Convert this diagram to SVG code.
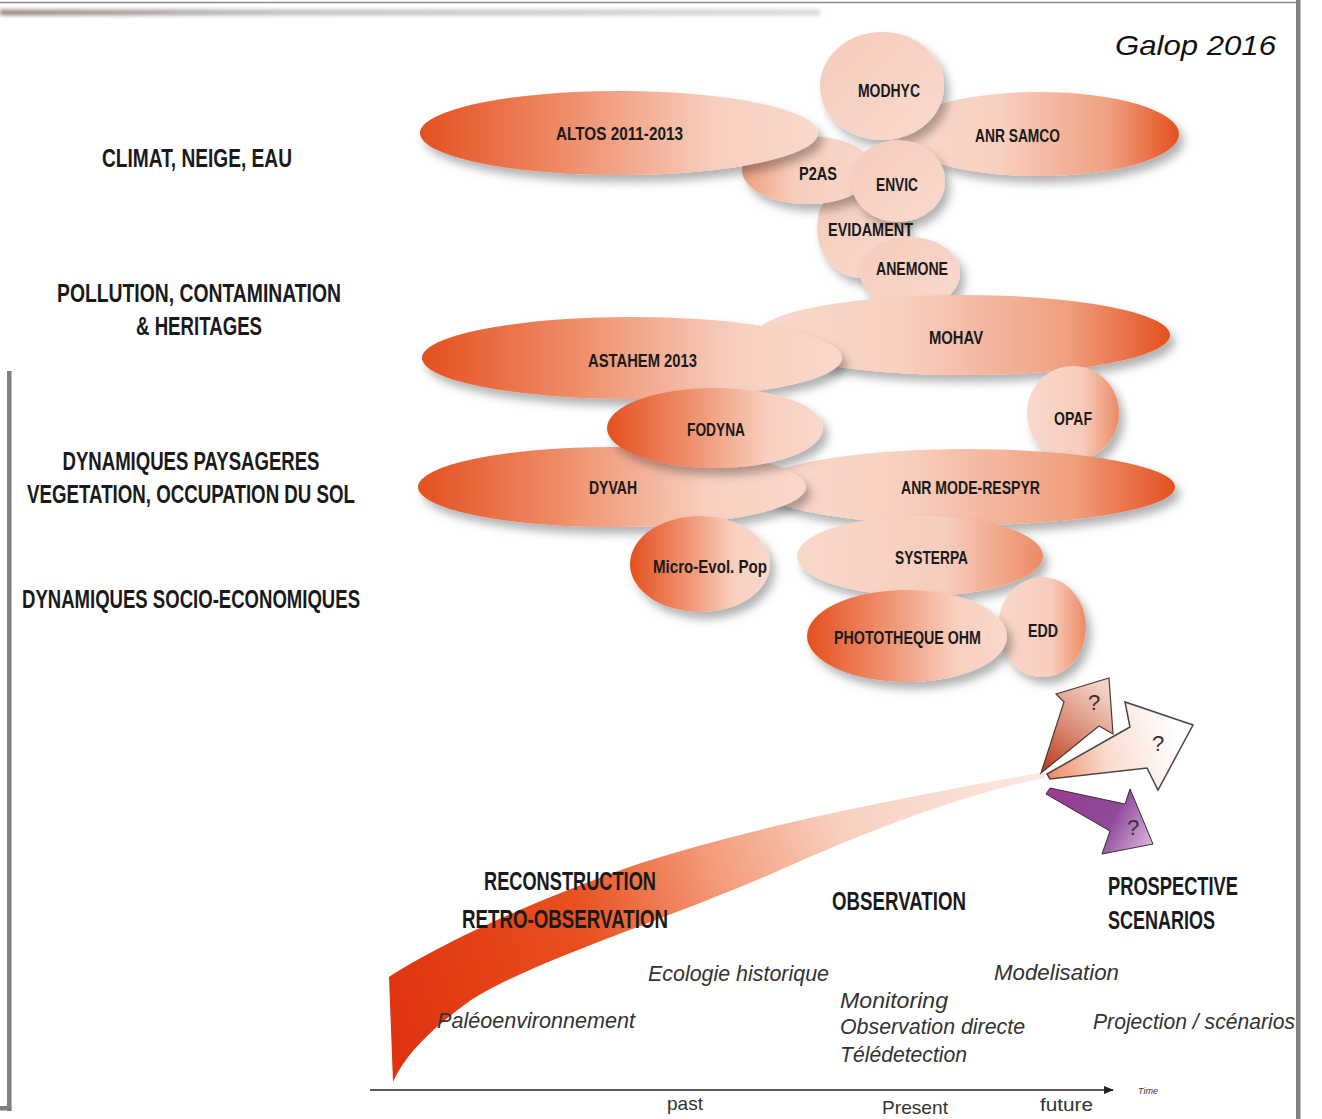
<svg xmlns="http://www.w3.org/2000/svg" width="1322" height="1119" viewBox="0 0 1322 1119">
<defs>
<style>
.lbl{font-family:"Liberation Sans",Arial,sans-serif;font-weight:bold;fill:#1a1a1a;}
.cat{font-size:25px;}
.nd{font-size:19px;text-anchor:start;}
.it{font-family:"Liberation Sans",Arial,sans-serif;font-style:italic;font-size:22px;fill:#333;}
.ax{font-family:"Liberation Sans",Arial,sans-serif;font-size:19px;fill:#333;}
.q{font-family:"Liberation Sans",Arial,sans-serif;font-size:22px;fill:#333;}
</style>
<filter id="sh" x="-20%" y="-30%" width="150%" height="170%">
<feDropShadow dx="5" dy="7" stdDeviation="5" flood-color="#000" flood-opacity="0.3"/>
</filter>
<filter id="bl" x="-5%" y="-200%" width="110%" height="500%"><feGaussianBlur stdDeviation="2"/></filter>
<linearGradient id="dl" x1="0" y1="0" x2="1" y2="0">
<stop offset="0" stop-color="#e4501f"/><stop offset="0.35" stop-color="#ee8a66"/><stop offset="0.75" stop-color="#f8d0c0"/><stop offset="1" stop-color="#f9d8cb"/>
</linearGradient>
<linearGradient id="dr" x1="0" y1="0" x2="1" y2="0">
<stop offset="0" stop-color="#f9d8cb"/><stop offset="0.35" stop-color="#f8d0c0"/><stop offset="0.75" stop-color="#f0a080"/><stop offset="1" stop-color="#e4501f"/>
</linearGradient>
<linearGradient id="pl" x1="0" y1="0" x2="1" y2="0">
<stop offset="0" stop-color="#efa07f"/><stop offset="0.4" stop-color="#f7cdbd"/><stop offset="1" stop-color="#f9d8cb"/>
</linearGradient>
<linearGradient id="pr" x1="0" y1="0" x2="1" y2="0">
<stop offset="0" stop-color="#f9d8cb"/><stop offset="0.6" stop-color="#f7cdbd"/><stop offset="1" stop-color="#ec8a63"/>
</linearGradient>
<linearGradient id="pp" x1="0" y1="0" x2="1" y2="1">
<stop offset="0" stop-color="#f6cbbb"/><stop offset="1" stop-color="#f9dace"/>
</linearGradient>
<linearGradient id="sw" gradientUnits="userSpaceOnUse" x1="388" y1="1000" x2="1045" y2="775">
<stop offset="0" stop-color="#e03410"/><stop offset="0.3" stop-color="#e8501f"/><stop offset="0.5" stop-color="#f39a78"/><stop offset="0.7" stop-color="#f8d0c0"/><stop offset="1" stop-color="#fde9e2"/>
</linearGradient>
<linearGradient id="a1" gradientUnits="userSpaceOnUse" x1="1041" y1="773" x2="1105" y2="690">
<stop offset="0" stop-color="#b8361a"/><stop offset="0.5" stop-color="#d98a72"/><stop offset="1" stop-color="#f3d3c6"/>
</linearGradient>
<linearGradient id="a2" gradientUnits="userSpaceOnUse" x1="1048" y1="775" x2="1180" y2="740">
<stop offset="0" stop-color="#f08a62"/><stop offset="0.45" stop-color="#f9dcd0"/><stop offset="1" stop-color="#ffffff"/>
</linearGradient>
<linearGradient id="a3" gradientUnits="userSpaceOnUse" x1="1050" y1="790" x2="1150" y2="845">
<stop offset="0" stop-color="#9a3c92"/><stop offset="0.6" stop-color="#8e4a98"/><stop offset="1" stop-color="#d9b2dc"/>
</linearGradient>
<linearGradient id="topsh" x1="0" y1="0" x2="1" y2="0">
<stop offset="0" stop-color="#857166"/><stop offset="0.35" stop-color="#b8b3b0"/><stop offset="1" stop-color="#d2d2d2"/>
</linearGradient>
<marker id="ar" viewBox="0 0 10 10" refX="9" refY="5" markerWidth="10" markerHeight="10" markerUnits="userSpaceOnUse" orient="auto">
<path d="M0,1 L10,5 L0,9 Z" fill="#222"/>
</marker>
</defs>
<rect width="1322" height="1119" fill="#fff"/>

<!-- frame -->
<g id="frame">
<line x1="0" y1="2.5" x2="1297" y2="2.5" stroke="#8a8a8a" stroke-width="1.5"/>
<rect x="0" y="10" width="820" height="5" fill="url(#topsh)" filter="url(#bl)"/>
<rect x="1296" y="0" width="4.5" height="1119" fill="#808080"/>
<rect x="7" y="371" width="4.5" height="740" fill="#808080"/>
<rect x="0" y="1106" width="11.5" height="4.5" fill="#808080"/>
</g>

<text x="1276" y="55" text-anchor="end" font-family="'Liberation Sans',Arial,sans-serif" font-style="italic" font-size="28" fill="#111" textLength="161" lengthAdjust="spacingAndGlyphs">Galop 2016</text>

<!-- category labels -->
<g id="categories" class="lbl cat" text-anchor="middle">
<text x="197" y="167" textLength="190" lengthAdjust="spacingAndGlyphs">CLIMAT, NEIGE, EAU</text>
<text x="199" y="302" textLength="284" lengthAdjust="spacingAndGlyphs">POLLUTION, CONTAMINATION</text>
<text x="199" y="335" textLength="126" lengthAdjust="spacingAndGlyphs">&amp; HERITAGES</text>
<text x="191" y="470" textLength="257" lengthAdjust="spacingAndGlyphs">DYNAMIQUES PAYSAGERES</text>
<text x="191" y="503" textLength="328" lengthAdjust="spacingAndGlyphs">VEGETATION, OCCUPATION DU SOL</text>
<text x="191" y="608" textLength="338" lengthAdjust="spacingAndGlyphs">DYNAMIQUES SOCIO-ECONOMIQUES</text>
</g>

<!-- project nodes -->
<g id="n-evidament"><ellipse cx="862" cy="228" rx="45" ry="50" fill="url(#pp)" filter="url(#sh)"/><text class="lbl nd" x="828" y="236" textLength="85" lengthAdjust="spacingAndGlyphs">EVIDAMENT</text></g>
<g id="n-p2as"><ellipse cx="808" cy="170" rx="66" ry="34" fill="url(#pl)" filter="url(#sh)"/><text class="lbl nd" x="799" y="180" textLength="38" lengthAdjust="spacingAndGlyphs">P2AS</text></g>
<g id="n-altos"><ellipse cx="619" cy="133" rx="199" ry="42" fill="url(#dl)" filter="url(#sh)"/><text class="lbl nd" x="556" y="140" textLength="127" lengthAdjust="spacingAndGlyphs">ALTOS 2011-2013</text></g>
<g id="n-samco"><ellipse cx="1039" cy="134" rx="140" ry="42" fill="url(#dr)" filter="url(#sh)"/><text class="lbl nd" x="975" y="142" textLength="85" lengthAdjust="spacingAndGlyphs">ANR SAMCO</text></g>
<g id="n-modhyc"><ellipse cx="882" cy="86" rx="62" ry="54" fill="url(#pp)" filter="url(#sh)"/><text class="lbl nd" x="858" y="97" textLength="62" lengthAdjust="spacingAndGlyphs">MODHYC</text></g>
<g id="n-envic"><ellipse cx="898" cy="181" rx="47" ry="41" fill="url(#pp)" filter="url(#sh)"/><text class="lbl nd" x="876" y="191" textLength="42" lengthAdjust="spacingAndGlyphs">ENVIC</text></g>
<g id="n-anemone"><ellipse cx="910" cy="273" rx="50" ry="36" fill="url(#pp)" filter="url(#sh)"/><text class="lbl nd" x="876" y="275" textLength="72" lengthAdjust="spacingAndGlyphs">ANEMONE</text></g>
<g id="n-mohav"><ellipse cx="963" cy="335" rx="207" ry="40" fill="url(#dr)" filter="url(#sh)"/><text class="lbl nd" x="929" y="344" textLength="54" lengthAdjust="spacingAndGlyphs">MOHAV</text></g>
<g id="n-astahem"><ellipse cx="632" cy="358" rx="210" ry="41" fill="url(#dl)" filter="url(#sh)"/><text class="lbl nd" x="588" y="367" textLength="109" lengthAdjust="spacingAndGlyphs">ASTAHEM 2013</text></g>
<g id="n-opaf"><ellipse cx="1073" cy="413" rx="46" ry="47" fill="url(#pr)" filter="url(#sh)"/><text class="lbl nd" x="1054" y="425" textLength="38" lengthAdjust="spacingAndGlyphs">OPAF</text></g>
<g id="n-moderespyr"><ellipse cx="966" cy="487" rx="209" ry="38" fill="url(#dr)" filter="url(#sh)"/><text class="lbl nd" x="901" y="494" textLength="139" lengthAdjust="spacingAndGlyphs">ANR MODE-RESPYR</text></g>
<g id="n-dyvah"><ellipse cx="612" cy="487" rx="194" ry="40" fill="url(#dl)" filter="url(#sh)"/><text class="lbl nd" x="589" y="494" textLength="48" lengthAdjust="spacingAndGlyphs">DYVAH</text></g>
<g id="n-fodyna"><ellipse cx="715" cy="428" rx="108" ry="40" fill="url(#dl)" filter="url(#sh)"/><text class="lbl nd" x="687" y="436" textLength="58" lengthAdjust="spacingAndGlyphs">FODYNA</text></g>
<g id="n-systerpa"><ellipse cx="920" cy="556" rx="123" ry="40" fill="url(#pr)" filter="url(#sh)"/><text class="lbl nd" x="895" y="564" textLength="73" lengthAdjust="spacingAndGlyphs">SYSTERPA</text></g>
<g id="n-microevol"><ellipse cx="700" cy="564" rx="70" ry="48" fill="url(#dl)" filter="url(#sh)"/><text class="lbl nd" x="653" y="573" textLength="114" lengthAdjust="spacingAndGlyphs">Micro-Evol. Pop</text></g>
<g id="n-edd"><ellipse cx="1042" cy="627" rx="44" ry="50" fill="url(#pr)" filter="url(#sh)"/><text class="lbl nd" x="1028" y="637" textLength="30" lengthAdjust="spacingAndGlyphs">EDD</text></g>
<g id="n-phototheque"><ellipse cx="907" cy="636" rx="100" ry="46" fill="url(#dl)" filter="url(#sh)"/><text class="lbl nd" x="834" y="644" textLength="147" lengthAdjust="spacingAndGlyphs">PHOTOTHEQUE OHM</text></g>

<!-- time swoosh and arrows -->
<g id="connectors">
<path d="M389 977 C430 950 520 905 641 863 C760 825 900 798 1045 772 L1045 778 C960 795 870 830 780 870 C680 915 520 965 467 1003 C430 1030 405 1055 393 1082 Z" fill="url(#sw)"/>
<path d="M1041 773 L1064 702 L1056 694 L1109 678 L1113 734 L1099 726 Z" fill="url(#a1)" stroke="#4a3a36" stroke-width="1.2"/>
<path d="M1047 774 L1130 727 L1125 702 L1193 725 L1158 790 L1147 768 L1050 779 Z" fill="url(#a2)" stroke="#4a4444" stroke-width="1.5"/>
<path d="M1050 788 L1125 804 L1130 789 L1153 844 L1102 854 L1110 831 L1046 794 Z" fill="url(#a3)" stroke="#3a2a3a" stroke-width="1"/>
<line x1="370" y1="1090" x2="1113" y2="1090" stroke="#222" stroke-width="1.5" marker-end="url(#ar)"/>
</g>
<text class="q" x="1088" y="710">?</text>
<text class="q" x="1152" y="751">?</text>
<text class="q" x="1127" y="835">?</text>

<!-- bottom labels -->
<g id="phases" class="lbl" font-size="26">
<text x="484" y="890" textLength="172" lengthAdjust="spacingAndGlyphs">RECONSTRUCTION</text>
<text x="462" y="928" textLength="206" lengthAdjust="spacingAndGlyphs">RETRO-OBSERVATION</text>
<text x="832" y="910" textLength="134" lengthAdjust="spacingAndGlyphs">OBSERVATION</text>
<text x="1108" y="895" textLength="130" lengthAdjust="spacingAndGlyphs">PROSPECTIVE</text>
<text x="1108" y="929" textLength="107" lengthAdjust="spacingAndGlyphs">SCENARIOS</text>
</g>
<g id="methods" class="it">
<text x="648" y="981" textLength="181" lengthAdjust="spacingAndGlyphs">Ecologie historique</text>
<text x="437" y="1028" textLength="198" lengthAdjust="spacingAndGlyphs">Paléoenvironnement</text>
<text x="840" y="1008" textLength="108" lengthAdjust="spacingAndGlyphs">Monitoring</text>
<text x="840" y="1034" textLength="185" lengthAdjust="spacingAndGlyphs">Observation directe</text>
<text x="840" y="1062" textLength="127" lengthAdjust="spacingAndGlyphs">Télédetection</text>
<text x="994" y="980" textLength="125" lengthAdjust="spacingAndGlyphs">Modelisation</text>
<text x="1093" y="1029" textLength="202" lengthAdjust="spacingAndGlyphs">Projection / scénarios</text>
</g>
<g id="axis-labels" class="ax">
<text x="667" y="1110" textLength="36" lengthAdjust="spacingAndGlyphs">past</text>
<text x="882" y="1114" textLength="66" lengthAdjust="spacingAndGlyphs">Present</text>
<text x="1040" y="1111" textLength="53" lengthAdjust="spacingAndGlyphs">future</text>
<text x="1138" y="1094" font-size="9" font-style="italic">Time</text>
</g>
</svg>
